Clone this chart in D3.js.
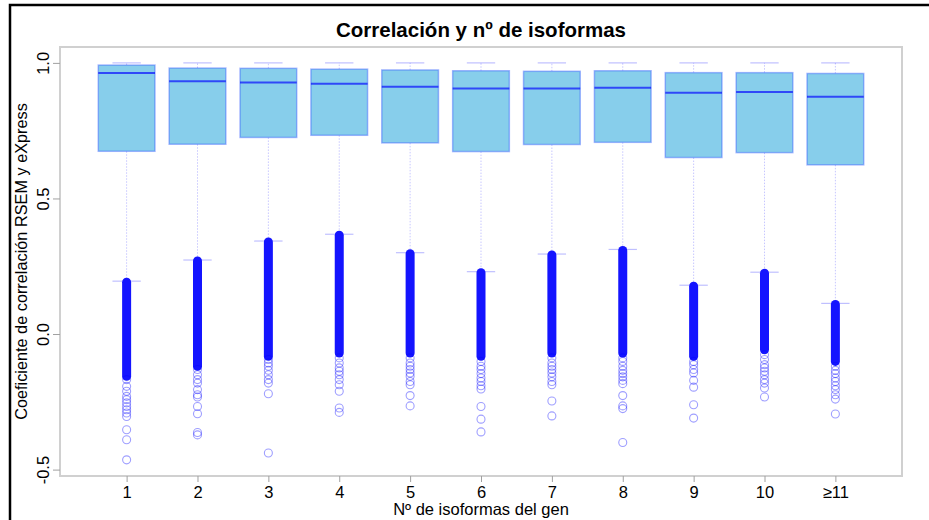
<!DOCTYPE html>
<html>
<head>
<meta charset="utf-8">
<script src="https://cdn.jsdelivr.net/npm/d3@7"></script>
<style>
  body { margin: 0; background: #fff; }
  text { font-family: "Liberation Sans", Arial, sans-serif; }
</style>
</head>
<body>
<div id="chart"></div>
<script>
// values
var categories = ["1", "2", "3", "4", "5", "6", "7", "8", "9", "10", "\u226511"];
var q1 =        [0.674, 0.700, 0.725, 0.733, 0.705, 0.673, 0.699, 0.707, 0.651, 0.669, 0.624];
var medians =   [0.963, 0.932, 0.928, 0.923, 0.912, 0.906, 0.906, 0.908, 0.890, 0.893, 0.875];
var q3 =        [0.992, 0.981, 0.980, 0.977, 0.974, 0.971, 0.969, 0.971, 0.964, 0.964, 0.961];
var whiskLow =  [0.195, 0.273, 0.343, 0.368, 0.300, 0.230, 0.295, 0.312, 0.180, 0.228, 0.113];
var whiskHigh = [1.000, 1.000, 1.000, 1.000, 1.000, 1.000, 1.000, 1.000, 1.000, 1.000, 1.000];
// bottom of the solid run of outliers under each box
var denseLow =  [-0.156, -0.119, -0.082, -0.070, -0.070, -0.082, -0.070, -0.070, -0.082, -0.058, -0.101];
// outliers that can still be told apart
var outliers = [
  [-0.168, -0.193, -0.211, -0.230, -0.242, -0.254, -0.267, -0.279, -0.291, -0.304, -0.353, -0.390, -0.464],
  [-0.131, -0.150, -0.168, -0.181, -0.205, -0.224, -0.232, -0.267, -0.294, -0.363, -0.372],
  [-0.094, -0.107, -0.119, -0.134, -0.150, -0.168, -0.181, -0.220, -0.439],
  [-0.088, -0.107, -0.125, -0.137, -0.150, -0.168, -0.187, -0.211, -0.273, -0.289],
  [-0.088, -0.107, -0.119, -0.131, -0.144, -0.156, -0.175, -0.187, -0.227, -0.265],
  [-0.101, -0.119, -0.131, -0.146, -0.162, -0.175, -0.191, -0.203, -0.267, -0.314, -0.361],
  [-0.088, -0.107, -0.119, -0.131, -0.144, -0.158, -0.175, -0.187, -0.247, -0.302],
  [-0.088, -0.101, -0.119, -0.134, -0.146, -0.158, -0.171, -0.183, -0.227, -0.265, -0.275, -0.400],
  [-0.101, -0.113, -0.131, -0.144, -0.171, -0.196, -0.261, -0.310],
  [-0.076, -0.094, -0.113, -0.125, -0.137, -0.150, -0.168, -0.181, -0.199, -0.232],
  [-0.119, -0.134, -0.146, -0.162, -0.175, -0.191, -0.205, -0.224, -0.240, -0.295]
];
var yTicks = [-0.5, 0.0, 0.5, 1.0];

function drawChart() {
  var W = 929, H = 520;
  var mLeft = 60, mRight = 902, mTop = 47, mBottom = 476;

  var svg = d3.select("#chart").append("svg")
      .attr("width", W)
      .attr("height", H);

  // outer frame
  svg.append("path")
      .attr("d", "M10,530 L10,5 L935,5")
      .attr("fill", "none")
      .attr("stroke", "#000")
      .attr("stroke-width", 2.5);

  var x = d3.scaleLinear().domain([0.06, 11.94]).range([mLeft, mRight]);
  var y = d3.scaleLinear().domain([-0.5236, 1.0586]).range([mBottom, mTop]);

  var boxW = x(0.8) - x(0);
  var capW = boxW / 2;

  // plot box
  svg.append("rect")
      .attr("x", mLeft).attr("y", mTop)
      .attr("width", mRight - mLeft).attr("height", mBottom - mTop)
      .attr("fill", "none")
      .attr("stroke", "#d0d0d0")
      .attr("stroke-width", 2);

  // y axis (plain hyphen for negatives, like the original)
  var fmt = d3.format(".1f");
  var yAxis = d3.axisLeft(y).tickValues(yTicks)
      .tickFormat(function(d) { return fmt(d).replace("\u2212", "-"); })
      .tickSize(7);
  var gy = svg.append("g").attr("transform", "translate(" + mLeft + ",0)").call(yAxis);
  gy.select(".domain").remove();
  gy.selectAll(".tick line").attr("stroke", "#a0a0a0");
  gy.selectAll(".tick text")
      .attr("font-size", 16.5)
      .attr("fill", "#000")
      .attr("text-anchor", "middle")
      .attr("dy", 0)
      .attr("x", 0)
      .attr("y", 0)
      .attr("transform", "translate(-11,0) rotate(-90)");

  // x axis
  var xAxis = d3.axisBottom(x).tickValues(d3.range(1, categories.length + 1))
      .tickFormat(function(d) { return categories[d - 1]; }).tickSize(6).tickPadding(4);
  var gx = svg.append("g").attr("transform", "translate(0," + mBottom + ")").call(xAxis);
  gx.select(".domain").remove();
  gx.selectAll(".tick line").attr("stroke", "#a0a0a0");
  gx.selectAll(".tick text").attr("font-size", 16.5).attr("fill", "#000");

  var groups = svg.selectAll(".grp")
      .data(categories)
    .enter().append("g")
      .attr("class", "grp");

  // whiskers (dotted)
  groups.append("line")
      .attr("x1", function(d, i) { return x(i + 1); })
      .attr("x2", function(d, i) { return x(i + 1); })
      .attr("y1", function(d, i) { return y(q3[i]); })
      .attr("y2", function(d, i) { return y(whiskHigh[i]); })
      .attr("stroke", "rgba(0,0,255,0.22)")
      .attr("stroke-dasharray", "1.5,1.5");
  groups.append("line")
      .attr("x1", function(d, i) { return x(i + 1); })
      .attr("x2", function(d, i) { return x(i + 1); })
      .attr("y1", function(d, i) { return y(q1[i]); })
      .attr("y2", function(d, i) { return y(whiskLow[i]); })
      .attr("stroke", "rgba(0,0,255,0.22)")
      .attr("stroke-dasharray", "1.5,1.5");

  // staples
  [whiskHigh, whiskLow].forEach(function(arr) {
    groups.append("line")
        .attr("x1", function(d, i) { return x(i + 1) - capW / 2; })
        .attr("x2", function(d, i) { return x(i + 1) + capW / 2; })
        .attr("y1", function(d, i) { return y(arr[i]); })
        .attr("y2", function(d, i) { return y(arr[i]); })
        .attr("stroke", "rgba(0,0,255,0.25)")
        .attr("stroke-width", 1.2);
  });

  // boxes
  groups.append("rect")
      .attr("x", function(d, i) { return x(i + 1) - boxW / 2; })
      .attr("width", boxW)
      .attr("y", function(d, i) { return y(q3[i]); })
      .attr("height", function(d, i) { return y(q1[i]) - y(q3[i]); })
      .attr("fill", "#87CEEB")
      .attr("stroke", "rgba(40,80,255,0.4)")
      .attr("stroke-width", 1.5);

  // medians
  groups.append("line")
      .attr("x1", function(d, i) { return x(i + 1) - boxW / 2; })
      .attr("x2", function(d, i) { return x(i + 1) + boxW / 2; })
      .attr("y1", function(d, i) { return y(medians[i]); })
      .attr("y2", function(d, i) { return y(medians[i]); })
      .attr("stroke", "rgba(0,0,255,0.65)")
      .attr("stroke-width", 2);

  // solid run of overlapping outliers
  groups.append("line")
      .attr("x1", function(d, i) { return x(i + 1); })
      .attr("x2", function(d, i) { return x(i + 1); })
      .attr("y1", function(d, i) { return y(whiskLow[i]) + 1; })
      .attr("y2", function(d, i) { return y(denseLow[i]); })
      .attr("stroke", "#1414ff")
      .attr("stroke-width", 9)
      .attr("stroke-linecap", "round");

  // single outliers
  groups.each(function(d, i) {
    d3.select(this).selectAll("circle")
        .data(outliers[i])
      .enter().append("circle")
        .attr("cx", x(i + 1))
        .attr("cy", function(v) { return y(v); })
        .attr("r", 4)
        .attr("fill", "none")
        .attr("stroke", "rgba(0,0,255,0.38)")
        .attr("stroke-width", 1.1);
  });

  // titles
  svg.append("text")
      .attr("x", (mLeft + mRight) / 2).attr("y", 37)
      .attr("text-anchor", "middle")
      .attr("font-size", 20.5).attr("font-weight", "bold")
      .text("Correlaci\u00f3n y n\u00ba de isoformas");

  svg.append("text")
      .attr("x", (mLeft + mRight) / 2).attr("y", 515)
      .attr("text-anchor", "middle")
      .attr("font-size", 16.5)
      .text("N\u00ba de isoformas del gen");

  svg.append("text")
      .attr("transform", "translate(27," + ((mTop + mBottom) / 2) + ") rotate(-90)")
      .attr("text-anchor", "middle")
      .attr("font-size", 16.3)
      .text("Coeficiente de correlaci\u00f3n RSEM y eXpress");
}

drawChart();
</script>
</body>
</html>
